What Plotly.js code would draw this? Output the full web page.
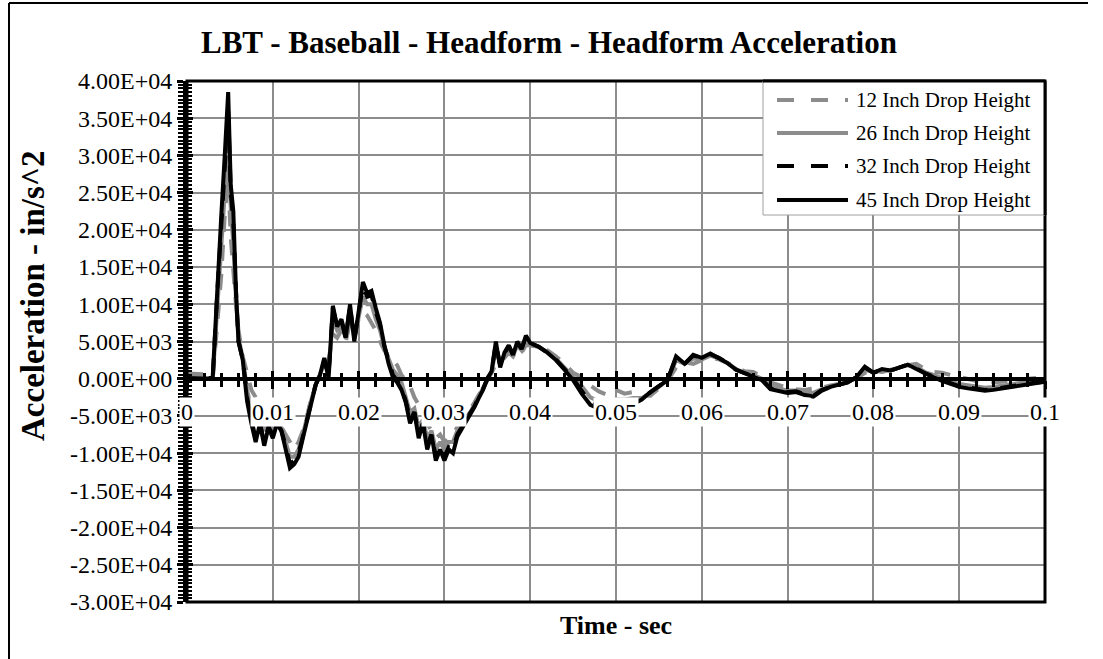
<!DOCTYPE html>
<html>
<head>
<meta charset="utf-8">
<script src="https://cdn.plot.ly/plotly-3.0.1.min.js"></script>
<style>html,body{margin:0;padding:0;background:#fff;}#chart{width:1103px;height:659px;}</style>
</head>
<body>
<div id="chart"></div>
<script>
// Time - sec
var time = [
 0, 0.001, 0.002, 0.0025, 0.003, 0.0035, 0.004, 0.0044, 0.0048, 0.0051,
 0.0054, 0.0057, 0.006, 0.0065, 0.007, 0.0075, 0.008, 0.0085, 0.009, 0.0095,
 0.010, 0.0105, 0.011, 0.0115, 0.012, 0.0125, 0.013, 0.0135, 0.014, 0.0145,
 0.015, 0.0155, 0.016, 0.0165, 0.017, 0.0175, 0.018, 0.0185, 0.019, 0.0195,
 0.020, 0.0205, 0.021, 0.0215, 0.022, 0.0225, 0.023, 0.0235, 0.024, 0.0245,
 0.025, 0.0255, 0.026, 0.0265, 0.027, 0.0275, 0.028, 0.0285, 0.029, 0.0295,
 0.030, 0.0305, 0.031, 0.0315, 0.032, 0.0325, 0.033, 0.0335, 0.034, 0.0345,
 0.035, 0.0355, 0.036, 0.0365, 0.037, 0.0375, 0.038, 0.0385, 0.039, 0.0395,
 0.040, 0.041, 0.042, 0.043, 0.044, 0.045, 0.046, 0.047, 0.048, 0.049,
 0.050, 0.051, 0.052, 0.053, 0.054, 0.055, 0.056, 0.057, 0.058, 0.059,
 0.060, 0.061, 0.062, 0.063, 0.064, 0.065, 0.066, 0.067, 0.068, 0.069,
 0.070, 0.071, 0.072, 0.073, 0.074, 0.075, 0.076, 0.077, 0.078, 0.079,
 0.080, 0.081, 0.082, 0.083, 0.084, 0.085, 0.086, 0.087, 0.088, 0.089,
 0.090, 0.091, 0.092, 0.093, 0.094, 0.095, 0.096, 0.097, 0.098, 0.099,
 0.100
];

var drop12 = [
 700, 600, 600, 300, 0, 7000, 14000, 22000, 27000, 19000,
 14000, 10000, 6500, 3000, 800, -1500, -2500, -3500, -4500, -5000,
 -5500, -6000, -6500, -7500, -8500, -9500, -8500, -7000, -5000, -2500,
 -800, 500, 1500, 2500, 6000, 5500, 6500, 5000, 7500, 6000,
 8000, 9000, 8500, 7500, 6500, 5000, 3800, 3000, 2500, 1800,
 500, -200, -1000, -2500, -3500, -4500, -6000, -7000, -8000, -7500,
 -8500, -8000, -7500, -6500, -6000, -5000, -4200, -3200, -2200, -1200,
 -300, 800, 2000, 2500, 2800, 3500, 3000, 4000, 3500, 4500,
 4500, 4200, 3800, 3000, 2000, 800, 200, -900, -1700, -2200,
 -1500, -2000, -1800, -2300, -2300, -1300, -300, 1500, 2200, 2000,
 2500, 2800, 2600, 2100, 1500, 1000, 900, 300, -500, -900,
 -1200, -1400, -1500, -1300, -1200, -900, -700, -300, 0, 800,
 1000, 900, 1200, 1600, 1800, 2000, 1300, 900, 800, 500,
 200, 0, -300, -500, -500, -400, -200, -100, 0, 100,
 200
];

var drop26 = [
 300, 200, 200, 100, 0, 9000, 18000, 26000, 32000, 23000,
 18000, 11000, 5500, 2800, -1500, -4000, -6000, -5000, -7000, -6000,
 -7000, -6000, -6500, -8500, -10500, -10500, -9500, -7500, -5000, -2800,
 -800, 500, 2000, 1000, 8000, 6500, 7000, 5500, 9000, 5500,
 8500, 11000, 10000, 10000, 8000, 6500, 4200, 2500, 1200, 500,
 -500, -2500, -4500, -4000, -6500, -5500, -8000, -7000, -9500, -8500,
 -9500, -8500, -8500, -7000, -6200, -5300, -4500, -3500, -2400, -1300,
 -100, 900, 4000, 2000, 3200, 4000, 3100, 4500, 3800, 5200,
 4600, 4200, 3600, 2700, 1500, 300, -1000, -2500, -3000, -3000,
 -2800, -2800, -2600, -2600, -2000, -1100, -200, 2500, 2000, 2700,
 2600, 3100, 2700, 2100, 1300, 800, 500, 0, -1000, -1300,
 -1600, -1600, -1800, -1900, -1400, -1000, -700, -400, 100, 1200,
 900, 1100, 1100, 1500, 1800, 1600, 900, 500, 0, -400,
 -700, -900, -1100, -1200, -1100, -900, -700, -500, -400, -300,
 -200
];

var drop32 = [
 100, 0, 0, 0, 200, 11000, 21000, 29000, 36000, 25000,
 21000, 12000, 5000, 2600, -2500, -5500, -8000, -6000, -8500, -6500,
 -7500, -6000, -7000, -9000, -11500, -11000, -10000, -7800, -5300, -3000,
 -800, 500, 2500, 500, 9500, 7000, 7800, 5500, 9800, 5200,
 9200, 12500, 11000, 11200, 9000, 7200, 4400, 2200, 500, -300,
 -1200, -3000, -5500, -4500, -7500, -6000, -9000, -7500, -10500, -9000,
 -10500, -9200, -9500, -7500, -6600, -5600, -4800, -3700, -2500, -1400,
 0, 1000, 4800, 1800, 3400, 4400, 3200, 4800, 4000, 5600,
 4800, 4300, 3500, 2600, 1300, 0, -1600, -3200, -3600, -3600,
 -3400, -3300, -3100, -2700, -1800, -1000, -200, 2800, 2000, 3100,
 2800, 3300, 2800, 2100, 1200, 700, 300, -100, -1300, -1500,
 -1800, -1700, -2100, -2300, -1500, -1100, -800, -500, 200, 1500,
 800, 1200, 1100, 1500, 1900, 1400, 700, 300, -200, -600,
 -1000, -1200, -1400, -1500, -1400, -1200, -1000, -800, -700, -500,
 -400
];

var drop45 = [
 0, 0, 0, 0, 300, 12000, 22000, 30000, 38500, 26000,
 22500, 12000, 5000, 2500, -3000, -6000, -8500, -6000, -9000, -6500,
 -8000, -6000, -7000, -9500, -12000, -11500, -10500, -8000, -5500, -3000,
 -800, 500, 2800, 0, 9800, 7000, 8000, 5500, 10000, 5000,
 9500, 13000, 11500, 11800, 9500, 7500, 4500, 2000, 200, -500,
 -1500, -3200, -6000, -4500, -8000, -6000, -9500, -7500, -11000, -9500,
 -11000, -9500, -10000, -7800, -6800, -5800, -5000, -3800, -2600, -1500,
 0, 1000, 5000, 1500, 3500, 4500, 3200, 5000, 4000, 5800,
 4800, 4300, 3500, 2500, 1200, -200, -2000, -3500, -4000, -4000,
 -3800, -3600, -3400, -2800, -1800, -1000, -200, 3000, 2000, 3200,
 2800, 3400, 2800, 2100, 1200, 700, 300, -200, -1400, -1600,
 -1900, -1800, -2200, -2400, -1600, -1100, -800, -500, 200, 1600,
 800, 1300, 1100, 1500, 1900, 1300, 700, 200, -300, -700,
 -1100, -1300, -1500, -1600, -1500, -1300, -1100, -900, -700, -600,
 -400
];

var seriesNames = ["12 Inch Drop Height", "26 Inch Drop Height", "32 Inch Drop Height", "45 Inch Drop Height"];
var yTickVals = [-30000, -25000, -20000, -15000, -10000, -5000, 0, 5000, 10000, 15000, 20000, 25000, 30000, 35000, 40000];
var yTickLabels = ["-3.00E+04", "-2.50E+04", "-2.00E+04", "-1.50E+04", "-1.00E+04", "-5.00E+03", "0.00E+00",
                   "5.00E+03", "1.00E+04", "1.50E+04", "2.00E+04", "2.50E+04", "3.00E+04", "3.50E+04", "4.00E+04"];
var xTickVals = [0, 0.01, 0.02, 0.03, 0.04, 0.05, 0.06, 0.07, 0.08, 0.09, 0.1];
var xTickLabels = ["0", "0.01", "0.02", "0.03", "0.04", "0.05", "0.06", "0.07", "0.08", "0.09", "0.1"];

var FONT = "Liberation Serif, Times New Roman, serif";
var GRAY = "#8c8c8c";
var L = 187, R = 1045, T = 81, B = 602;
function px(x) { return (x - L) / (R - L); }
function py(y) { return (B - y) / (B - T); }

var styles = [
  {color: GRAY, width: 4, dash: "16px,13px"},
  {color: GRAY, width: 4, dash: "solid"},
  {color: "#000", width: 4, dash: "16px,13px"},
  {color: "#000", width: 4, dash: "solid"}
];
var dataSets = [drop12, drop26, drop32, drop45];

var traces = dataSets.map(function (vals, i) {
  return {x: time, y: vals, type: "scatter", mode: "lines", name: seriesNames[i],
          line: styles[i], showlegend: false, hoverinfo: "skip"};
});
// carrier for the overlay axes that draw the inner half of the crossing ticks
traces.push({x: [], y: [], type: "scatter", mode: "lines", xaxis: "x2", yaxis: "y2", showlegend: false, hoverinfo: "skip"});

var zeroPos = (0 - (-30000)) / 70000;

var shapes = [
  {type: "rect", xref: "paper", yref: "paper", x0: 0, x1: 1, y0: 0, y1: 1, line: {color: "#000", width: 3}, layer: "above"},
  {type: "line", xref: "paper", yref: "paper", x0: px(9), x1: px(9), y0: py(3), y1: py(659), line: {color: "#000", width: 2}},
  {type: "line", xref: "paper", yref: "paper", x0: px(9), x1: px(1088), y0: py(3), y1: py(3), line: {color: "#000", width: 2}},
  {type: "rect", xref: "paper", yref: "paper", x0: px(763), x1: px(1045), y0: py(215), y1: py(81),
   fillcolor: "#fff", line: {color: "#a0a0a0", width: 1}, layer: "above"},
  {type: "line", xref: "paper", yref: "paper", x0: px(1045), x1: px(1045), y0: py(215), y1: py(81), line: {color: "#000", width: 3}, layer: "above"},
  {type: "line", xref: "paper", yref: "paper", x0: px(763), x1: px(1045), y0: py(81), y1: py(81), line: {color: "#000", width: 3}, layer: "above"}
];
var legY = [100, 133, 166, 200];
var annotations = [];
for (var i = 0; i < 4; i++) {
  shapes.push({type: "line", xref: "paper", yref: "paper", x0: px(777), x1: px(848), y0: py(legY[i]), y1: py(legY[i]),
               line: {color: styles[i].color, width: 4, dash: styles[i].dash === "solid" ? "solid" : "17px,17px"}, layer: "above"});
  annotations.push({xref: "paper", yref: "paper", x: px(854), y: py(legY[i]), xanchor: "left", yanchor: "middle",
                    text: seriesNames[i], showarrow: false, font: {family: FONT, size: 21, color: "#000"}});
}
xTickVals.forEach(function (v, i) {
  annotations.push({xref: "x", yref: "paper", x: v, y: py(412), xanchor: "center", yanchor: "middle",
                    text: xTickLabels[i], showarrow: false, bgcolor: "#fff", borderpad: 1,
                    font: {family: FONT, size: 24, color: "#000"}});
});
annotations.push({xref: "paper", yref: "paper", x: px(549), y: py(43), xanchor: "center", yanchor: "middle",
                  text: "<b>LBT - Baseball - Headform - Headform Acceleration</b>", showarrow: false,
                  font: {family: FONT, size: 31, color: "#000"}});
annotations.push({xref: "paper", yref: "paper", x: px(616), y: py(625), xanchor: "center", yanchor: "middle",
                  text: "<b>Time - sec</b>", showarrow: false, font: {family: FONT, size: 26, color: "#000"}});
annotations.push({xref: "paper", yref: "paper", x: px(33), y: py(296), xanchor: "center", yanchor: "middle",
                  text: "<b>Acceleration - in/s^2</b>", textangle: -90, showarrow: false,
                  font: {family: FONT, size: 33, color: "#000"}});

var layout = {
  width: 1103, height: 659,
  margin: {l: L, r: 1103 - R, t: T, b: 659 - B, pad: 0},
  paper_bgcolor: "#fff", plot_bgcolor: "#fff",
  showlegend: false,
  xaxis: {
    range: [0, 0.1], tickmode: "linear", tick0: 0, dtick: 0.01,
    showgrid: true, gridcolor: GRAY, gridwidth: 2, zeroline: false,
    showticklabels: false, ticks: "outside", ticklen: 8, tickwidth: 3, tickcolor: "#000",
    minor: {tickmode: "linear", tick0: 0, dtick: 0.002, ticks: "outside", ticklen: 6, tickwidth: 3, tickcolor: "#000", showgrid: false},
    showline: true, linecolor: "#000", linewidth: 4,
    anchor: "free", position: zeroPos, fixedrange: true
  },
  xaxis2: {
    overlaying: "x", matches: "x", anchor: "free", position: zeroPos,
    tickmode: "linear", tick0: 0, dtick: 0.01, showgrid: false, zeroline: false, showticklabels: false,
    ticks: "inside", ticklen: 8, tickwidth: 3, tickcolor: "#000",
    minor: {tickmode: "linear", tick0: 0, dtick: 0.002, ticks: "inside", ticklen: 6, tickwidth: 3, tickcolor: "#000", showgrid: false},
    showline: false
  },
  yaxis: {
    range: [-30000, 40000], tickmode: "array", tickvals: yTickVals, ticktext: yTickLabels,
    showgrid: true, gridcolor: GRAY, gridwidth: 2, zeroline: false,
    ticks: "outside", ticklen: 6, tickwidth: 3, tickcolor: "#000",
    minor: {tickmode: "linear", tick0: 0, dtick: 500, ticks: "outside", ticklen: 5, tickwidth: 2, tickcolor: "#000", showgrid: false},
    showline: true, linecolor: "#000", linewidth: 4,
    tickfont: {family: FONT, size: 24, color: "#000"}, fixedrange: true
  },
  yaxis2: {
    overlaying: "y", matches: "y", anchor: "x2", side: "left",
    tickmode: "array", tickvals: yTickVals, showgrid: false, zeroline: false, showticklabels: false,
    ticks: "inside", ticklen: 6, tickwidth: 3, tickcolor: "#000",
    minor: {tickmode: "linear", tick0: 0, dtick: 500, ticks: "inside", ticklen: 5, tickwidth: 2, tickcolor: "#000", showgrid: false},
    showline: false
  },
  shapes: shapes,
  annotations: annotations
};

Plotly.newPlot("chart", traces, layout, {staticPlot: true, displayModeBar: false});
</script>
</body>
</html>
